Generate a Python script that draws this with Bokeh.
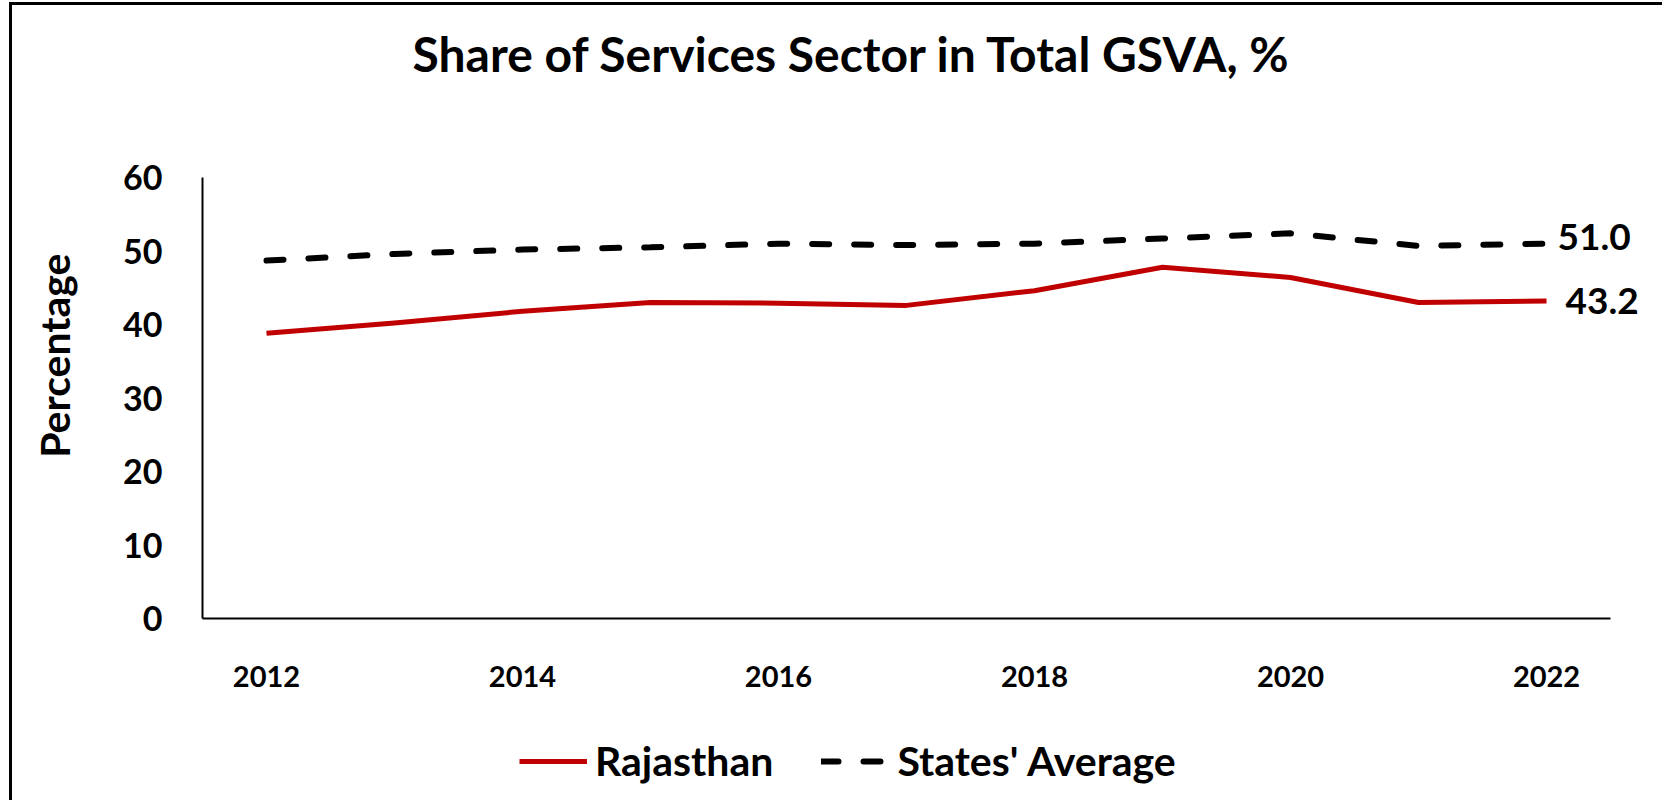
from bokeh.plotting import figure
from bokeh.layouts import column
from bokeh.models import (ColumnDataSource, FixedTicker, Legend, LegendItem, Title)
from bokeh.core.properties import value
from bokeh.embed import file_html
from bokeh.resources import INLINE

# ---- data ----
years = [2012, 2013, 2014, 2015, 2016, 2017, 2018, 2019, 2020, 2021, 2022]
rajasthan = [38.8, 40.2, 41.8, 43.0, 42.9, 42.6, 44.6, 47.8, 46.4, 43.0, 43.2]
states_avg = [48.7, 49.6, 50.2, 50.5, 51.0, 50.8, 51.0, 51.7, 52.4, 50.7, 51.0]
x_ticks = [2012, 2014, 2016, 2018, 2020, 2022]
y_ticks = [0, 10, 20, 30, 40, 50, 60]
title_text = "Share of Services Sector in Total GSVA, %"
y_title = "Percentage"
series_names = ["Rajasthan", "States' Average"]

FONT = "Lato"
RED = "#C00000"
RED_STYLE = dict(line_color=RED, line_width=5, line_join="round")
AVG_STYLE = dict(line_color="black", line_width=6, line_dash="17 25", line_cap="round")


def spacer(n):
    # blank title used only as space in a side panel
    return Title(text=" ", text_font_size="1px", standoff=n)


p = figure(width=1650, height=700, output_backend="svg", toolbar_location=None,
           title=None,
           x_range=(2011.5, 2022.906), y_range=(0, 60),
           min_border_left=190, min_border_right=0, min_border_top=172,
           min_border_bottom=87)
p.outline_line_color = None
p.xgrid.visible = False
p.ygrid.visible = False
p.background_fill_color = "white"
p.border_fill_color = "white"

src = ColumnDataSource(dict(x=years, r=rajasthan, s=states_avg))
p.line("x", "r", source=src, **RED_STYLE)
p.line("x", "s", source=src, **AVG_STYLE)

for ax in (p.xaxis[0], p.yaxis[0]):
    ax.axis_line_color = "black"
    ax.axis_line_width = 2
    ax.major_tick_line_color = None
    ax.minor_tick_line_color = None
    ax.major_tick_out = 0
    ax.major_tick_in = 0
    ax.major_label_text_font = FONT
    ax.major_label_text_font_style = "bold"
    ax.major_label_text_color = "black"

p.xaxis[0].major_label_text_font_size = "29px"
p.yaxis[0].major_label_text_font_size = "34px"
p.xaxis[0].ticker = FixedTicker(ticks=x_ticks)
p.yaxis[0].ticker = FixedTicker(ticks=y_ticks)
p.xaxis[0].bounds = (2011.5, 2022.5)
p.xaxis[0].major_label_standoff = 47
p.yaxis[0].major_label_standoff = 40

# chart title (spacer first so the title sits further from the frame)
p.add_layout(spacer(93), "above")
p.add_layout(Title(text=title_text, align="left", offset=210, standoff=0,
                   vertical_align="bottom", text_font=FONT, text_font_style="bold",
                   text_font_size="48px", text_color="black"), "above")
# y axis title
p.add_layout(spacer(39), "left")
p.add_layout(Title(text=y_title, align="right", offset=76, standoff=0,
                   text_font=FONT, text_font_style="bold", text_font_size="41px",
                   text_color="black"), "left")

# end data labels
p.text(x=[years[-1]], y=[states_avg[-1]], text=[f"{states_avg[-1]:.1f}"],
       x_offset=11, y_offset=-7, text_align="left", text_baseline="middle",
       text_font=value(FONT), text_font_style="bold", text_font_size="37px",
       text_color="black")
p.text(x=[years[-1]], y=[rajasthan[-1]], text=[f"{rajasthan[-1]:.1f}"],
       x_offset=19, y_offset=0, text_align="left", text_baseline="middle",
       text_font=value(FONT), text_font_style="bold", text_font_size="37px",
       text_color="black")

# legend strip underneath (its own small figure; sample lines hold only NaN)
pl = figure(width=1650, height=95, output_backend="svg", toolbar_location=None,
            title=None, x_axis_type=None, y_axis_type=None,
            x_range=(0, 1), y_range=(0, 1),
            min_border_left=0, min_border_right=0, min_border_top=0,
            min_border_bottom=0)
pl.outline_line_color = None
pl.xgrid.visible = False
pl.ygrid.visible = False
pl.border_fill_color = "white"
nan = float("nan")
lr1 = pl.line(x=[nan], y=[nan], **RED_STYLE)
lr2 = pl.line(x=[nan], y=[nan], **AVG_STYLE)
legend = Legend(items=[LegendItem(label=series_names[0], renderers=[lr1]),
                       LegendItem(label=series_names[1], renderers=[lr2])],
                orientation="horizontal", location=(317, 15),
                glyph_width=68, glyph_height=44, label_standoff=8, spacing=48,
                padding=0, margin=0, border_line_color=None,
                background_fill_alpha=0,
                label_text_font=FONT, label_text_font_style="bold",
                label_text_font_size="41px", label_text_color="black",
                label_height=44)
pl.add_layout(legend, "center")

layout = column(p, pl, spacing=0)
layout.styles = {"border-top": "3px solid black", "border-left": "3px solid black",
                 "margin-left": "9px", "margin-top": "2px"}

open("out.html", "w").write(file_html(layout, INLINE))
